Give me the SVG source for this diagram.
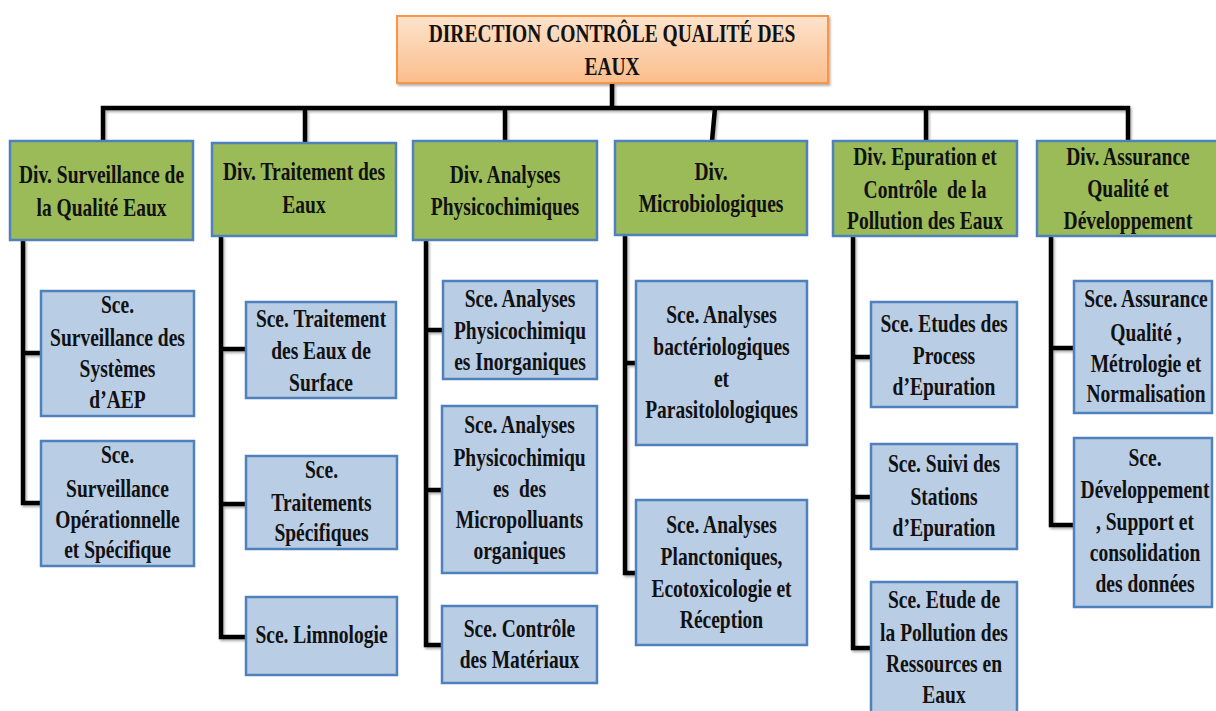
<svg xmlns="http://www.w3.org/2000/svg" width="1216" height="711" viewBox="0 0 1216 711">
<defs>
<linearGradient id="og" x1="0" y1="0" x2="0" y2="1">
<stop offset="0" stop-color="#fde3cc"/>
<stop offset="1" stop-color="#fbbd8c"/>
</linearGradient>
<filter id="sh" x="-5%" y="-5%" width="115%" height="115%">
<feDropShadow dx="1.5" dy="2" stdDeviation="1.2" flood-color="#000" flood-opacity="0.3"/>
</filter>
</defs>
<style>
text{font-family:"Liberation Serif","Times New Roman",serif;font-weight:bold;font-size:26px;text-anchor:middle;fill:#111;white-space:pre}
.top{fill:url(#og);stroke:#f79646;stroke-width:2}
.div{fill:#9bbb59;stroke:#4f81bd;stroke-width:2.5}
.sce{fill:#b9cde5;stroke:#4f81bd;stroke-width:2.5}
.con{fill:none;stroke:#000;stroke-width:4.5;stroke-linejoin:miter}
</style>
<rect width="1216" height="711" fill="#fff"/>

<g id="connectors" filter="url(#sh)">
<path class="con" d="M612,83 V108 M103,141 V108 H1128 V141 M305,108 V143 M505,108 V141 M715,108 L712,141 M926,108 V141"/>
<path class="con" d="M23,240 V503 H41 M23,353 H41"/>
<path class="con" d="M221,236 V637 H246 M221,349 H246 M221,504 H246"/>
<path class="con" d="M426,240 V645 H442 M426,330 H442 M426,490 H442"/>
<path class="con" d="M625,235 V573 H636 M625,363 H636"/>
<path class="con" d="M853,236 V648 H871 M853,357 H871 M853,497 H871"/>
<path class="con" d="M1051,236 V525 H1074 M1051,348 H1074"/>
</g>

<g id="direction">
<rect class="top" x="397" y="16" width="431" height="67" filter="url(#sh)"/>
<g transform="translate(612 0) scale(0.75 1)"><text x="0" y="42">DIRECTION CONTRÔLE QUALITÉ DES</text><text x="0" y="75">EAUX</text></g>
</g>

<g id="div-surveillance">
<rect class="div" x="10" y="141" width="183" height="99"/>
<g transform="translate(101.5 0) scale(0.75 1)"><text x="0" y="183">Div. Surveillance de</text><text x="0" y="216">la Qualité Eaux</text></g>
</g>
<g id="div-traitement">
<rect class="div" x="212" y="143" width="184" height="93"/>
<g transform="translate(304 0) scale(0.75 1)"><text x="0" y="180">Div. Traitement des</text><text x="0" y="213">Eaux</text></g>
</g>
<g id="div-physico">
<rect class="div" x="413" y="141" width="184" height="99"/>
<g transform="translate(505 0) scale(0.75 1)"><text x="0" y="183">Div. Analyses</text><text x="0" y="215">Physicochimiques</text></g>
</g>
<g id="div-micro">
<rect class="div" x="615" y="141" width="192" height="94"/>
<g transform="translate(711 0) scale(0.75 1)"><text x="0" y="180">Div.</text><text x="0" y="212">Microbiologiques</text></g>
</g>
<g id="div-epuration">
<rect class="div" x="833" y="141" width="184" height="95"/>
<g transform="translate(925 0) scale(0.75 1)"><text x="0" y="165">Div. Epuration et</text><text x="0" y="198">Contrôle  de la</text><text x="0" y="229">Pollution des Eaux</text></g>
</g>
<g id="div-assurance">
<rect class="div" x="1037" y="141" width="184" height="95"/>
<g transform="translate(1128 0) scale(0.75 1)"><text x="0" y="165">Div. Assurance</text><text x="0" y="197">Qualité et</text><text x="0" y="229">Développement</text></g>
</g>

<g id="sce-aep">
<rect class="sce" x="41" y="291" width="153" height="125"/>
<g transform="translate(117.5 0) scale(0.75 1)"><text x="0" y="313">Sce.</text><text x="0" y="346">Surveillance des</text><text x="0" y="377">Systèmes</text><text x="0" y="408">d’AEP</text></g>
</g>
<g id="sce-operationnelle">
<rect class="sce" x="41" y="441" width="153" height="125"/>
<g transform="translate(117.5 0) scale(0.75 1)"><text x="0" y="463">Sce.</text><text x="0" y="497">Surveillance</text><text x="0" y="528">Opérationnelle</text><text x="0" y="558">et Spécifique</text></g>
</g>

<g id="sce-surface">
<rect class="sce" x="246" y="302" width="150" height="96"/>
<g transform="translate(321 0) scale(0.75 1)"><text x="0" y="327">Sce. Traitement</text><text x="0" y="359">des Eaux de</text><text x="0" y="391">Surface</text></g>
</g>
<g id="sce-specifiques">
<rect class="sce" x="246" y="456" width="151" height="93"/>
<g transform="translate(321.5 0) scale(0.75 1)"><text x="0" y="478">Sce.</text><text x="0" y="511">Traitements</text><text x="0" y="541">Spécifiques</text></g>
</g>
<g id="sce-limnologie">
<rect class="sce" x="246" y="597" width="151" height="78"/>
<g transform="translate(321.5 0) scale(0.75 1)"><text x="0" y="643">Sce. Limnologie</text></g>
</g>

<g id="sce-inorganiques">
<rect class="sce" x="443" y="281" width="154" height="98"/>
<g transform="translate(520 0) scale(0.75 1)"><text x="0" y="307">Sce. Analyses</text><text x="0" y="339">Physicochimiqu</text><text x="0" y="370">es Inorganiques</text></g>
</g>
<g id="sce-micropolluants">
<rect class="sce" x="442" y="406" width="155" height="167"/>
<g transform="translate(519.5 0) scale(0.75 1)"><text x="0" y="433">Sce. Analyses</text><text x="0" y="466">Physicochimiqu</text><text x="0" y="497">es  des</text><text x="0" y="528">Micropolluants</text><text x="0" y="559">organiques</text></g>
</g>
<g id="sce-materiaux">
<rect class="sce" x="442" y="606" width="155" height="77"/>
<g transform="translate(519.5 0) scale(0.75 1)"><text x="0" y="637">Sce. Contrôle</text><text x="0" y="668">des Matériaux</text></g>
</g>

<g id="sce-bacterio">
<rect class="sce" x="636" y="281" width="171" height="164"/>
<g transform="translate(721.5 0) scale(0.75 1)"><text x="0" y="323">Sce. Analyses</text><text x="0" y="355">bactériologiques</text><text x="0" y="387">et</text><text x="0" y="418">Parasitolologiques</text></g>
</g>
<g id="sce-plancton">
<rect class="sce" x="636" y="500" width="171" height="145"/>
<g transform="translate(721.5 0) scale(0.75 1)"><text x="0" y="533">Sce. Analyses</text><text x="0" y="565">Planctoniques,</text><text x="0" y="597">Ecotoxicologie et</text><text x="0" y="628">Réception</text></g>
</g>

<g id="sce-process">
<rect class="sce" x="871" y="302" width="146" height="105"/>
<g transform="translate(944 0) scale(0.75 1)"><text x="0" y="332">Sce. Etudes des</text><text x="0" y="364">Process</text><text x="0" y="395">d’Epuration</text></g>
</g>
<g id="sce-stations">
<rect class="sce" x="871" y="444" width="146" height="105"/>
<g transform="translate(944 0) scale(0.75 1)"><text x="0" y="472">Sce. Suivi des</text><text x="0" y="505">Stations</text><text x="0" y="536">d’Epuration</text></g>
</g>
<g id="sce-ressources">
<rect class="sce" x="871" y="582" width="146" height="140"/>
<g transform="translate(944 0) scale(0.75 1)"><text x="0" y="608">Sce. Etude de</text><text x="0" y="641">la Pollution des</text><text x="0" y="672">Ressources en</text><text x="0" y="703">Eaux</text></g>
</g>

<g id="sce-metrologie">
<rect class="sce" x="1074" y="281" width="138" height="132"/>
<g transform="translate(1146 0) scale(0.75 1)"><text x="0" y="307">Sce. Assurance</text><text x="0" y="341">Qualité ,</text><text x="0" y="372">Métrologie et</text><text x="0" y="402">Normalisation</text></g>
</g>
<g id="sce-developpement">
<rect class="sce" x="1074" y="438" width="138" height="169"/>
<g transform="translate(1145 0) scale(0.75 1)"><text x="0" y="466">Sce.</text><text x="0" y="498">Développement</text><text x="0" y="530">, Support et</text><text x="0" y="561">consolidation</text><text x="0" y="592">des données</text></g>
</g>
</svg>
